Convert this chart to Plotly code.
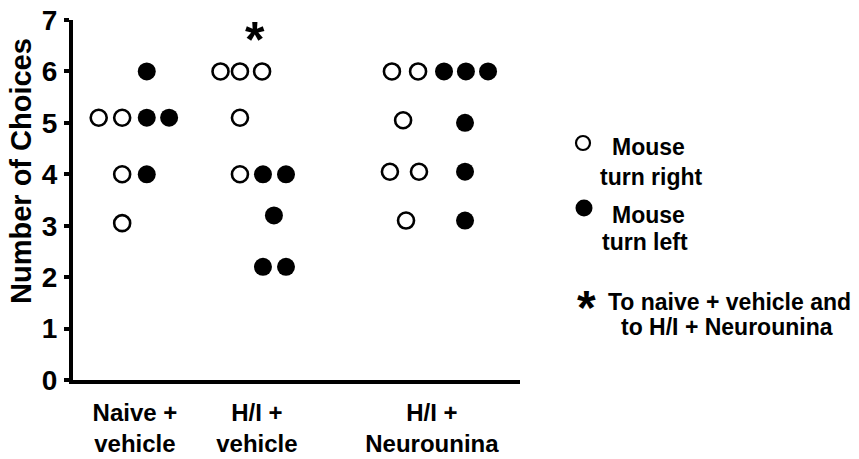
import plotly.graph_objects as go

# ---- data ----
categories = ["Naive +<br>vehicle", "H/I +<br>vehicle", "H/I +<br>Neurounina"]
category_pos = [2.77, 8.23, 16.06]

# Mouse turn right (open circles)
right_x = [1.15, 2.2, 2.2, 2.2,
           6.6, 7.47, 8.46, 7.47, 7.47,
           14.27, 15.44, 14.77, 14.18, 15.48, 14.9]
right_y = [5.1, 5.1, 4.0, 3.05,
           6.0, 6.0, 6.0, 5.1, 4.0,
           6.0, 6.0, 5.05, 4.05, 4.05, 3.1]

# Mouse turn left (filled circles)
left_x = [3.3, 3.3, 4.3, 3.3,
          8.5, 9.53, 8.99, 8.5, 9.53,
          16.6, 17.58, 18.57, 17.54, 17.54, 17.54]
left_y = [6.0, 5.1, 5.1, 4.0,
          4.0, 4.0, 3.2, 2.2, 2.2,
          6.0, 6.0, 6.0, 5.0, 4.05, 3.1]

y_ticks = [0, 1, 2, 3, 4, 5, 6, 7]
star_x = 8.14
star_y = 6.78

FONT = "Liberation Sans"

fig = go.Figure()
fig.add_trace(go.Scatter(
    x=right_x, y=right_y, mode="markers", cliponaxis=False,
    marker=dict(symbol="circle-open", size=16, color="black",
                line=dict(width=2.6, color="black")),
    showlegend=False, hoverinfo="skip"))
fig.add_trace(go.Scatter(
    x=left_x, y=left_y, mode="markers", cliponaxis=False,
    marker=dict(symbol="circle", size=18, color="black"),
    showlegend=False, hoverinfo="skip"))

W, H = 859, 459
L, R, T, B = 73, 339, 20, 79
pw, ph = W - L - R, H - T - B


def px(xp):
    return (xp - L) / pw


def py(yp):
    return (H - B - yp) / ph


annotations = [
    dict(x=star_x, y=star_y, xref="x", yref="y", text="*", showarrow=False,
         font=dict(family=FONT, size=50, color="black", weight="bold"),
         xanchor="center", yanchor="middle", yshift=-9),
    dict(x=px(21), y=py(171), xref="paper", yref="paper",
         text="Number of Choices", textangle=-90, showarrow=False,
         xanchor="center", yanchor="middle",
         font=dict(family=FONT, size=29, color="black", weight="bold")),
]

legend_lines = [
    ("Mouse", 648, 145),
    ("turn right", 651, 175),
    ("Mouse", 648, 213),
    ("turn left", 645, 240),
    ("To naive + vehicle and", 729, 300),
    ("to H/I + Neurounina", 727, 325),
]
for txt, xp, yp in legend_lines:
    annotations.append(dict(
        x=px(xp), y=py(yp), xref="paper", yref="paper", text=txt,
        showarrow=False, xanchor="center", yanchor="middle", yshift=-2,
        font=dict(family=FONT, size=23, color="black", weight="bold")))

annotations.append(dict(
    x=px(586), y=py(298), xref="paper", yref="paper", text="*",
    showarrow=False, xanchor="center", yanchor="middle", yshift=-9,
    font=dict(family=FONT, size=48, color="black", weight="bold")))

shapes = [
    dict(type="circle", xref="paper", yref="paper", xsizemode="pixel",
         ysizemode="pixel", xanchor=px(583), yanchor=py(143),
         x0=-7, x1=7, y0=-7, y1=7, line=dict(color="black", width=2.2),
         fillcolor="rgba(0,0,0,0)"),
    dict(type="circle", xref="paper", yref="paper", xsizemode="pixel",
         ysizemode="pixel", xanchor=px(584), yanchor=py(208),
         x0=-8.5, x1=8.5, y0=-8.5, y1=8.5, line=dict(color="black", width=0),
         fillcolor="black"),
]

fig.update_layout(
    template="none",
    width=W, height=H,
    margin=dict(l=L, r=R, t=T, b=B, pad=0),
    plot_bgcolor="white", paper_bgcolor="white",
    font=dict(family=FONT, color="black"),
    annotations=annotations,
    shapes=shapes,
    showlegend=False,
    hovermode=False,
    xaxis=dict(
        range=[0, 20], showgrid=False, zeroline=False, automargin=False,
        showline=True, linecolor="black", linewidth=4,
        tickmode="array", tickvals=category_pos, ticktext=categories,
        ticks="", ticklabelstandoff=8, ticklabeloverflow="allow",
        tickfont=dict(family=FONT, size=24, color="black", weight="bold"),
    ),
    yaxis=dict(
        range=[0, 7], showgrid=False, zeroline=False, automargin=False,
        showline=True, linecolor="black", linewidth=4,
        tickmode="array", tickvals=y_ticks, ticktext=[str(v) for v in y_ticks],
        ticks="outside", ticklen=5, tickwidth=4, tickcolor="black",
        ticklabelstandoff=1, ticklabeloverflow="allow",
        tickfont=dict(family=FONT, size=28, color="black", weight="bold"),
    ),
)

fig.write_html(
    "out.html",
    config={"displayModeBar": False},
    post_script="document.body.style.margin='0';document.body.style.overflow='hidden';",
)
